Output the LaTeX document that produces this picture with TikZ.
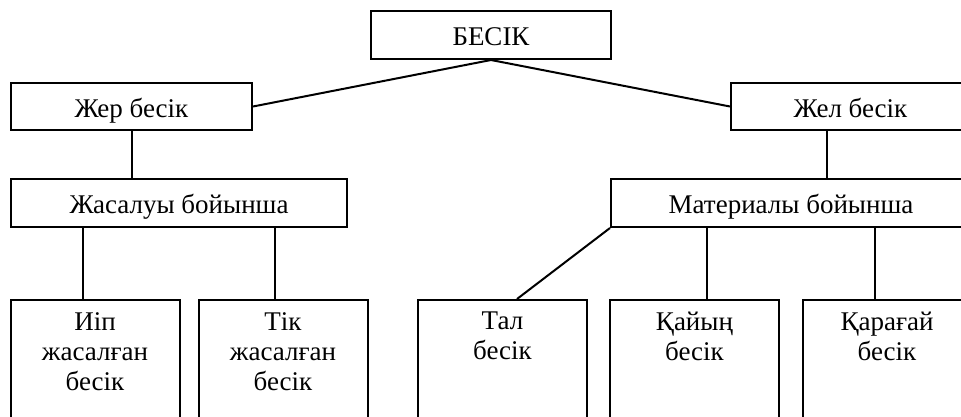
\documentclass[tikz,border=0pt]{standalone}
\usepackage{fontspec}
\setmainfont{Liberation Serif}

\tikzset{
	box/.style={draw, line width=2pt, inner sep=0pt, text height=21pt, text depth=0pt, font=\fontsize{27}{30}\selectfont},
	leaf/.style={draw, line width=2pt, minimum width=169pt, minimum height=150pt, anchor=north},
	leaftext/.style={anchor=north, align=center, inner sep=0pt, yshift=-13pt, font=\fontsize{27}{30}\selectfont},
	link/.style={line width=2pt}
}

\begin{document}
\begin{tikzpicture}[x=1pt, y=-1pt]
		\useasboundingbox (0, 0) rectangle (961, 416);
		\clip (0, 0) rectangle (961, 416);
		\fill[white] (0, 0) rectangle (961, 416);
		% top levels
		\node[box, minimum width=240pt, minimum height=48pt] (besik) at (491, 35) {БЕСІК};
		\node[box, minimum width=241pt, minimum height=47pt] (zher) at (131.5, 106.5) {Жер бесік};
		\node[box, minimum width=239pt, minimum height=47pt] (zhel) at (850.5, 106.5) {Жел бесік};
		\node[box, minimum width=336pt, minimum height=48pt] (zhasau) at (179, 203) {Жасалуы бойынша};
		\node[box, minimum width=360pt, minimum height=48pt] (material) at (791, 203) {Материалы бойынша};
		% bottom boxes
		\node[leaf, label={[leaftext]90:Иіп\\жасалған\\бесік}] (iip) at (95, 299) {};
		\node[leaf, label={[leaftext]90:Тік\\жасалған\\бесік}] (tik) at (283, 299) {};
		\node[leaf, label={[leaftext]90:Тал\\бесік}] (tal) at (502.5, 299) {};
		\node[leaf, label={[leaftext]90:Қайың\\бесік}] (kaiyn) at (694.5, 299) {};
		\node[leaf, label={[leaftext]90:Қарағай\\бесік}] (karagai) at (887, 299) {};
		% connectors
		\draw[link] (besik.south) -- (zher.east);
		\draw[link] (besik.south) -- (zhel.west);
		\draw[link] (zher.south) -- (zher.south |- zhasau.north);
		\draw[link] ([xshift=-23.5pt]zhel.south) -- ([xshift=-23.5pt]zhel.south |- material.north);
		\draw[link] ([xshift=-12pt]iip.north) -- ([xshift=-12pt]iip.north |- zhasau.south);
		\draw[link] ([xshift=-8pt]tik.north) -- ([xshift=-8pt]tik.north |- zhasau.south);
		\draw[link] (material.south west) -- ([xshift=14.5pt]tal.north);
		\draw[link] ([xshift=12.5pt]kaiyn.north) -- ([xshift=12.5pt]kaiyn.north |- material.south);
		\draw[link] ([xshift=-12pt]karagai.north) -- ([xshift=-12pt]karagai.north |- material.south);
	\end{tikzpicture}
\end{document}
